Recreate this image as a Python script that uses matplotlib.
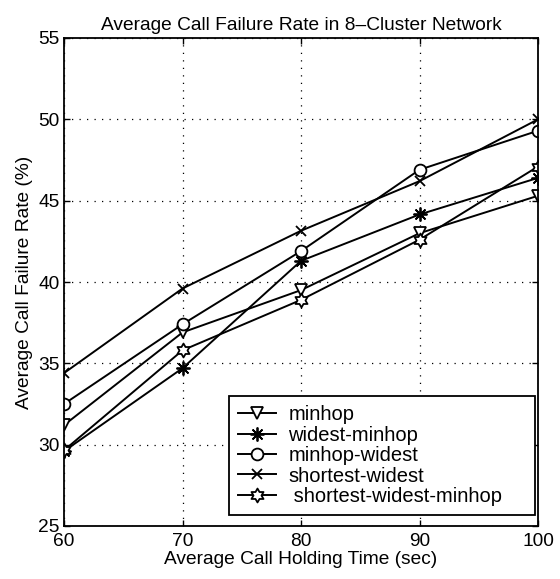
import numpy as np
import matplotlib
matplotlib.use("Agg")
import matplotlib.pyplot as plt
from matplotlib.path import Path

plt.rcParams['font.family'] = ['Liberation Sans', 'DejaVu Sans']

holding_time = [60, 70, 80, 90, 100]
minhop = [31.2, 36.9, 39.5, 43.0, 45.3]
widest_minhop = [29.6, 34.7, 41.3, 44.15, 46.4]
minhop_widest = [32.5, 37.4, 41.9, 46.9, 49.3]
shortest_widest = [34.4, 39.6, 43.15, 46.2, 50.0]
shortest_widest_minhop = [29.65, 35.8, 38.9, 42.6, 47.1]

series_names = ['minhop', 'widest-minhop', 'minhop-widest',
                'shortest-widest', ' shortest-widest-minhop']
x_ticks = [60, 70, 80, 90, 100]
y_ticks = [25, 30, 35, 40, 45, 50, 55]

# open hexagram (six-pointed star) marker
ang = np.pi / 2 + np.arange(12) * np.pi / 6
rad = np.where(np.arange(12) % 2 == 0, 1.0, 1.0 / np.sqrt(3))
verts = np.column_stack([rad * np.cos(ang), rad * np.sin(ang)])
verts = np.vstack([verts, verts[:1]])
codes = [Path.MOVETO] + [Path.LINETO] * 11 + [Path.CLOSEPOLY]
hexagram = Path(verts, codes)

# eight-armed asterisk
asterisk = (8, 2, 0)

fig = plt.figure(figsize=(5.6, 5.79), dpi=100)
ax = fig.add_axes([64 / 560, 1 - 526 / 579, (538 - 64) / 560, (526 - 38) / 579])

styles = [
    dict(marker='v', ms=9, mfc='white'),
    dict(marker=asterisk, ms=10),
    dict(marker='o', ms=8.5, mfc='white'),
    dict(marker='x', ms=7.5),
    dict(marker=hexagram, ms=10, mfc='white'),
]
data = [minhop, widest_minhop, minhop_widest, shortest_widest, shortest_widest_minhop]
for y, name, st in zip(data, series_names, styles):
    ax.plot(holding_time, y, color='black', lw=1.4, mec='black', mew=1.3,
            label=name, **st)

ax.set_xlim(60, 100)
ax.set_ylim(25, 55)
ax.set_xticks(x_ticks)
ax.set_yticks(y_ticks)
ax.grid(True, color='black', linestyle=(0, (1, 5)), linewidth=0.9)
ax.tick_params(direction='in', top=True, right=True, labelsize=13.8,
               length=4, width=1)
ax.tick_params(axis='x', pad=5)
ax.tick_params(axis='y', pad=3)
for s in ax.spines.values():
    s.set_linewidth(1.3)

ax.set_xlabel('Average Call Holding Time (sec)', fontsize=13.8, labelpad=1)
ax.set_ylabel('Average Call Failure Rate (%)', fontsize=13.8, labelpad=4)
ax.set_title('Average Call Failure Rate in 8\u2013Cluster Network',
             fontsize=13.8, pad=6)

leg = ax.legend(loc='lower left', mode='expand', fontsize=14.5, frameon=True,
                fancybox=False, edgecolor='black', framealpha=1,
                borderpad=0.45, labelspacing=0.07, handlelength=1.9,
                handletextpad=0.6, borderaxespad=0.0,
                bbox_to_anchor=(0.348, 0.0225, 0.646, 0.24))
leg.get_frame().set_linewidth(1.3)

fig.savefig('out.png', dpi=100)
